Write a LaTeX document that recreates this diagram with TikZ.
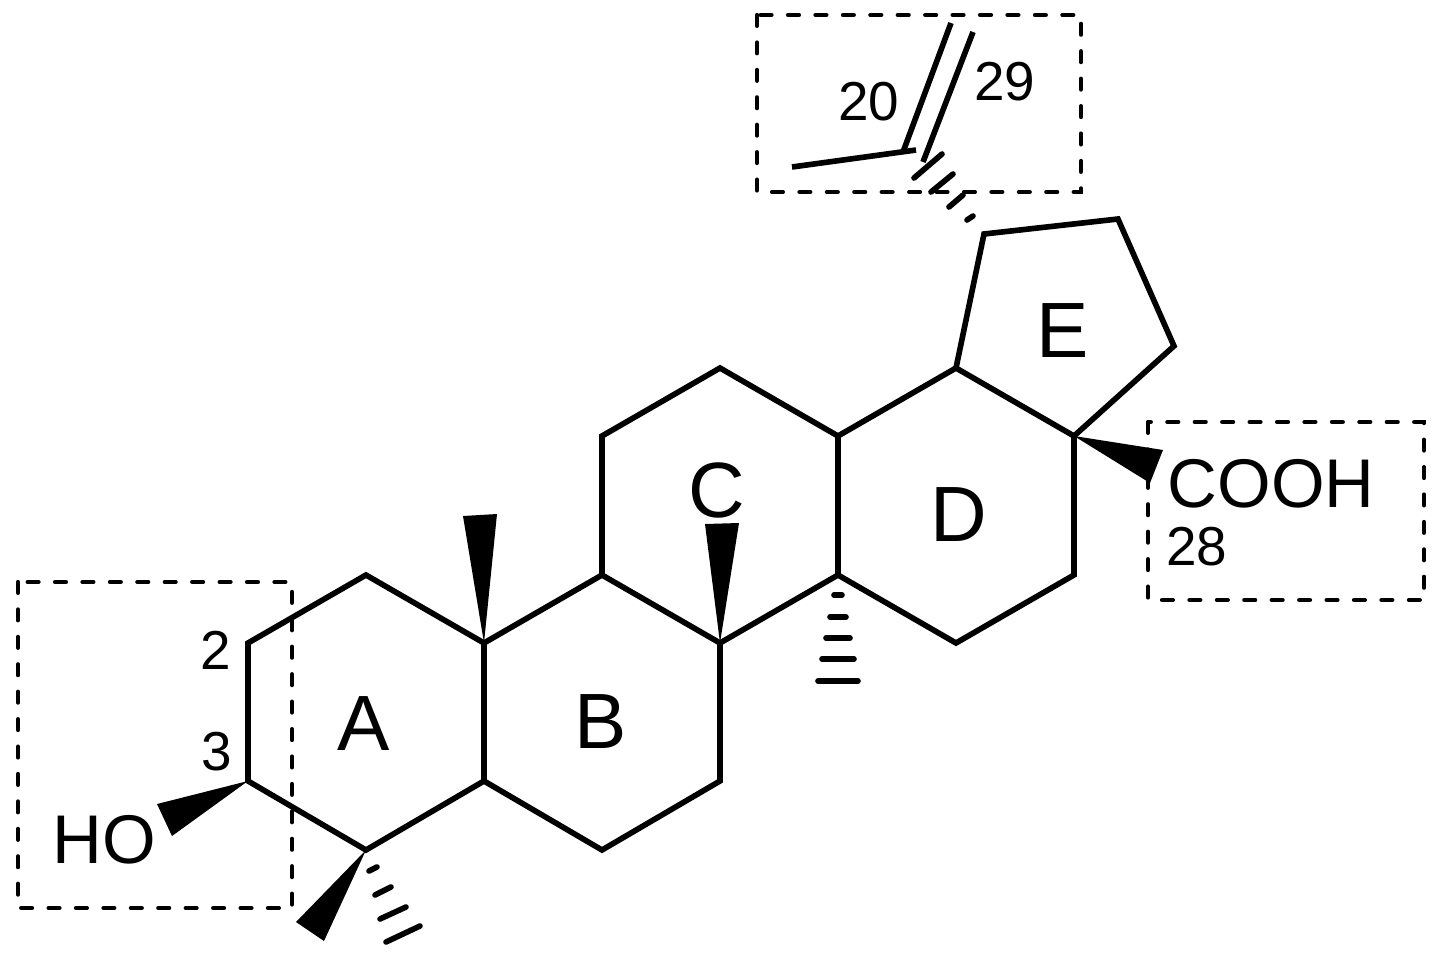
\documentclass[tikz,border=0pt]{standalone}
\usepackage{fontspec}
\setmainfont{Liberation Sans}
\tikzset{
  bond/.style={line width=1.6pt},
  hashbond/.style={line width=1.6pt, line cap=round},
  wedge/.style={fill=black},
  markbox/.style={line width=1.2pt, line cap=round, dash pattern=on 3.1pt off 4.7pt},
  ringlabel/.style={font=\fontsize{22.3}{22}\selectfont, inner sep=0pt},
  grouplabel/.style={font=\fontsize{19.6}{20}\selectfont, inner sep=0pt},
  numlabel/.style={font=\fontsize{15.6}{15}\selectfont, inner sep=0pt}
}
\begin{document}
\begin{tikzpicture}[x=0.01cm, y=-0.01cm]
    \useasboundingbox (0,0) rectangle (1438,960);
    % atoms
    \coordinate (a1) at (248,643);
    \coordinate (a2) at (366,575);
    \coordinate (a3) at (484,643);
    \coordinate (a4) at (484,781);
    \coordinate (a5) at (366,850);
    \coordinate (a6) at (248,781);
    \coordinate (b1) at (602,575);
    \coordinate (b2) at (720,643);
    \coordinate (b3) at (720,781);
    \coordinate (b4) at (602,850);
    \coordinate (c1) at (602,436);
    \coordinate (c2) at (720,368);
    \coordinate (c3) at (838,436);
    \coordinate (c4) at (838,575);
    \coordinate (d1) at (956,368);
    \coordinate (d2) at (1074,436);
    \coordinate (d3) at (1074,575);
    \coordinate (d4) at (956,643);
    \coordinate (e1) at (984,234);
    \coordinate (e2) at (1118,219);
    \coordinate (e3) at (1174,346);
    \coordinate (f1) at (903,152);
    \coordinate (f2) at (951,23);
    \coordinate (f3) at (923,162);
    \coordinate (f4) at (973,32);
    \coordinate (f5) at (792,167);
    \coordinate (f6) at (916,150);

    % marked regions
    \draw[markbox] (757,15) rectangle (1081,192);
    \draw[markbox] (1148,422) rectangle (1424,600);
    \draw[markbox] (18,582) rectangle (292,908);

    % rings
    \draw[bond] (a1) -- (a2) -- (a3) -- (a4) -- (a5) -- (a6) -- cycle;
    \draw[bond] (a3) -- (b1) -- (b2) -- (b3) -- (b4) -- (a4);
    \draw[bond] (b1) -- (c1) -- (c2) -- (c3) -- (c4) -- (b2);
    \draw[bond] (c3) -- (d1) -- (d2) -- (d3) -- (d4) -- (c4);
    \draw[bond] (d1) -- (e1) -- (e2) -- (e3) -- (d2);

    % isopropenyl
    \draw[bond] (f5) -- (f6);
    \draw[bond] (f1) -- (f2);
    \draw[bond] (f3) -- (f4);

    % wedges
    \fill[wedge] (a3) -- (463,516) -- (497,514) -- cycle;
    \fill[wedge] (b2) -- (705,524) -- (739,523) -- cycle;
    \fill[wedge] (d2) -- (1163,450) -- (1150,483) -- cycle;
    \fill[wedge] (a6) -- (157,804) -- (172,836) -- cycle;
    \fill[wedge] (a5) -- (296,922) -- (324,941) -- cycle;

    % hashed bonds
    \foreach \y/\w in {595/4, 617/8, 638/12, 659/16, 681/20}
      \draw[hashbond] (838-\w,\y) -- (838+\w,\y);
    \foreach \x/\y/\u/\v in {373/869/4/2, 383/891/8/4, 393/913/13/6, 403/934/17/8}
      \draw[hashbond] (\x-\u,\y+\v) -- (\x+\u,\y-\v);
    \foreach \x/\y/\u/\v in {970/218/3/2, 956/201/7/6, 942/183/11/9, 928/166/14/12}
      \draw[hashbond] (\x-\u,\y+\v) -- (\x+\u,\y-\v);

    % labels
    \node[ringlabel] (ringA) at (364,724) {A};
    \node[ringlabel] (ringB) at (601,722) {B};
    \node[ringlabel] (ringC) at (717,490) {C};
    \node[ringlabel] (ringD) at (959,515) {D};
    \node[ringlabel] (ringE) at (1063,331) {E};
    \node[grouplabel] (ho) at (104,840) {HO};
    \node[grouplabel] (cooh) at (1271,484) {COOH};
    \node[numlabel] (n2) at (216,650) {2};
    \node[numlabel] (n3) at (217,752) {3};
    \node[numlabel] (n20) at (869,102) {20};
    \node[numlabel] (n29) at (1005,82) {29};
    \node[numlabel] (n28) at (1197,547) {28};
  \end{tikzpicture}
\end{document}
